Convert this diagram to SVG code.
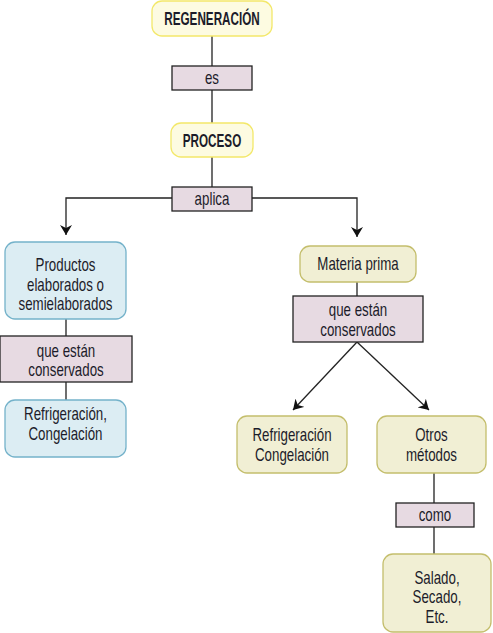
<svg xmlns="http://www.w3.org/2000/svg" width="493" height="633" viewBox="0 0 493 633">
<style>
text{font-family:"Liberation Sans",Arial,sans-serif;font-size:18px;fill:#1c1c2a;text-anchor:middle}
.b{font-weight:bold}
.y{fill:#fdfbe1;stroke:#f3e86a;stroke-width:1.3}
.o{fill:#f1efd4;stroke:#c4be6c;stroke-width:1.3}
.c{fill:#dcedf3;stroke:#74b2ca;stroke-width:1.3}
.p{fill:#e7dae2;stroke:#222;stroke-width:1.3}
.l{stroke:#222;stroke-width:1.3;fill:none}
</style>
<defs>
<marker id="ah" viewBox="0 0 10 12" refX="10" refY="6" markerWidth="10" markerHeight="12" markerUnits="userSpaceOnUse" orient="auto">
<path d="M0,0 L10,6 L0,12 L3,6 Z" fill="#111"/>
</marker>
</defs>
<g id="connectors">
<path class="l" d="M212,36 V66 M212,90 V123 M212,157 V187"/>
<path class="l" d="M172,198 H66 V235" marker-end="url(#ah)"/>
<path class="l" d="M252,198 H357 V237" marker-end="url(#ah)"/>
<path class="l" d="M66,319 V336 M66,382 V400"/>
<path class="l" d="M357,282 V296"/>
<path class="l" d="M357,342 L293,410" marker-end="url(#ah)"/>
<path class="l" d="M357,342 L429,410" marker-end="url(#ah)"/>
<path class="l" d="M434,473 V503 M434,527 V554"/>
</g>
<g id="regeneracion"><rect class="y" x="152" y="1" width="120" height="35" rx="10"/><text class="b" transform="translate(212,25) scale(0.65,1)">REGENERACIÓN</text></g>
<g id="es"><rect class="p" x="172" y="66" width="80" height="24"/><text transform="translate(212,84) scale(0.74,1)">es</text></g>
<g id="proceso"><rect class="y" x="171" y="123" width="82" height="34" rx="10"/><text class="b" transform="translate(212,146.5) scale(0.65,1)">PROCESO</text></g>
<g id="aplica"><rect class="p" x="172" y="187" width="80" height="24"/><text transform="translate(212,205) scale(0.74,1)">aplica</text></g>
<g id="productos"><rect class="c" x="5" y="242" width="121" height="77" rx="10"/><text transform="translate(65.5,271) scale(0.74,1)">Productos</text><text transform="translate(65.5,290.5) scale(0.74,1)">elaborados o</text><text transform="translate(65.5,310) scale(0.74,1)">semielaborados</text></g>
<g id="conservados-izq"><rect class="p" x="0" y="336" width="132" height="46"/><text transform="translate(66,357) scale(0.74,1)">que están</text><text transform="translate(66,376) scale(0.74,1)">conservados</text></g>
<g id="refrigeracion-izq"><rect class="c" x="5" y="400" width="121" height="57" rx="10"/><text transform="translate(65.5,420) scale(0.74,1)">Refrigeración,</text><text transform="translate(65.5,440) scale(0.74,1)">Congelación</text></g>
<g id="materia"><rect class="o" x="300" y="246" width="116" height="36" rx="10"/><text transform="translate(358,270) scale(0.74,1)">Materia prima</text></g>
<g id="conservados-der"><rect class="p" x="293" y="296" width="130" height="46"/><text transform="translate(358,315.5) scale(0.74,1)">que están</text><text transform="translate(358,335.5) scale(0.74,1)">conservados</text></g>
<g id="refrigeracion-der"><rect class="o" x="237" y="416" width="110" height="57" rx="10"/><text transform="translate(292,440.5) scale(0.74,1)">Refrigeración</text><text transform="translate(292,460.5) scale(0.74,1)">Congelación</text></g>
<g id="otros"><rect class="o" x="377" y="416" width="109" height="57" rx="10"/><text transform="translate(431.5,440.5) scale(0.74,1)">Otros</text><text transform="translate(431.5,460.5) scale(0.74,1)">métodos</text></g>
<g id="como"><rect class="p" x="396" y="503" width="78" height="24"/><text transform="translate(435,520.5) scale(0.74,1)">como</text></g>
<g id="salado"><rect class="o" x="383" y="554" width="108" height="78" rx="10"/><text transform="translate(437,583.5) scale(0.74,1)">Salado,</text><text transform="translate(437,603) scale(0.74,1)">Secado,</text><text transform="translate(437,622.5) scale(0.74,1)">Etc.</text></g>
</svg>
